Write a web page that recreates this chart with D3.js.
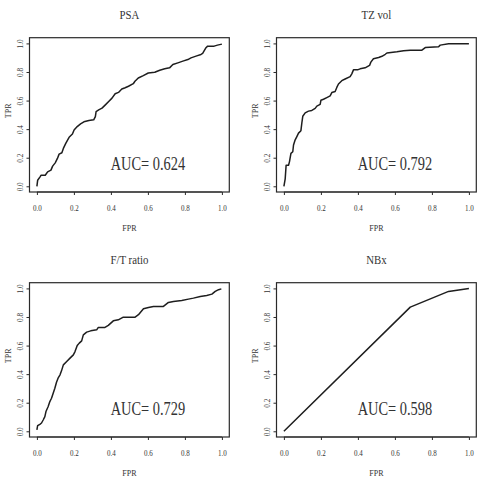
<!DOCTYPE html>
<html>
<head>
<meta charset="utf-8">
<script src="https://cdn.jsdelivr.net/npm/d3@7"></script>
<style>
  html, body { margin: 0; padding: 0; background: #fff; }
  svg { display: block; }
  text { font-family: "Liberation Serif", "Times New Roman", serif; fill: #333; }
</style>
</head>
<body>
<script>
// ---- data ----
const titles = ["PSA", "TZ vol", "F/T ratio", "NBx"];
const aucLabels = ["AUC= 0.624", "AUC= 0.792", "AUC= 0.729", "AUC= 0.598"];
const tickValues = [0.0, 0.2, 0.4, 0.6, 0.8, 1.0];

const psaFPR = [0, 0.004, 0.017, 0.022, 0.045, 0.058, 0.076, 0.085, 0.099, 0.111, 0.120, 0.135, 0.143, 0.156, 0.174, 0.192, 0.201, 0.218, 0.236, 0.254, 0.281, 0.307, 0.316, 0.320, 0.334, 0.352, 0.370, 0.388, 0.406, 0.423, 0.441, 0.459, 0.477, 0.495, 0.521, 0.530, 0.548, 0.575, 0.602, 0.637, 0.664, 0.691, 0.717, 0.735, 0.762, 0.789, 0.816, 0.833, 0.860, 0.887, 0.896, 0.914, 0.923, 0.958, 0.976, 1.0];
const psaTPR = [0, 0.042, 0.066, 0.077, 0.077, 0.101, 0.113, 0.141, 0.164, 0.195, 0.225, 0.235, 0.265, 0.300, 0.343, 0.366, 0.394, 0.418, 0.437, 0.451, 0.460, 0.465, 0.488, 0.523, 0.535, 0.547, 0.570, 0.594, 0.617, 0.648, 0.657, 0.681, 0.690, 0.700, 0.718, 0.735, 0.758, 0.775, 0.793, 0.798, 0.812, 0.822, 0.829, 0.852, 0.864, 0.876, 0.887, 0.899, 0.911, 0.923, 0.930, 0.970, 0.981, 0.981, 0.988, 0.995];

const tzFPR = [0, 0.007, 0.012, 0.025, 0.030, 0.038, 0.048, 0.052, 0.061, 0.070, 0.079, 0.092, 0.097, 0.102, 0.115, 0.133, 0.151, 0.169, 0.178, 0.196, 0.200, 0.214, 0.232, 0.250, 0.259, 0.277, 0.286, 0.295, 0.313, 0.331, 0.358, 0.367, 0.376, 0.398, 0.412, 0.439, 0.463, 0.470, 0.484, 0.512, 0.530, 0.548, 0.557, 0.611, 0.647, 0.683, 0.746, 0.764, 0.836, 0.845, 0.890, 1.0];
const tzTPR = [0, 0.052, 0.147, 0.147, 0.171, 0.230, 0.242, 0.289, 0.325, 0.348, 0.372, 0.389, 0.443, 0.490, 0.514, 0.526, 0.531, 0.545, 0.561, 0.573, 0.602, 0.609, 0.621, 0.633, 0.656, 0.664, 0.692, 0.716, 0.739, 0.751, 0.768, 0.787, 0.815, 0.815, 0.822, 0.829, 0.846, 0.869, 0.893, 0.901, 0.910, 0.924, 0.933, 0.941, 0.948, 0.953, 0.953, 0.971, 0.976, 0.988, 0.997, 0.997];

const ftFPR = [0, 0.004, 0.016, 0.025, 0.034, 0.043, 0.049, 0.061, 0.070, 0.079, 0.088, 0.097, 0.106, 0.116, 0.125, 0.133, 0.143, 0.161, 0.179, 0.197, 0.206, 0.218, 0.229, 0.242, 0.251, 0.269, 0.291, 0.323, 0.332, 0.368, 0.386, 0.413, 0.440, 0.467, 0.531, 0.549, 0.576, 0.603, 0.630, 0.684, 0.711, 0.738, 0.783, 0.819, 0.846, 0.883, 0.918, 0.946, 0.964, 0.982, 0.997];
const ftTPR = [0.01, 0.039, 0.049, 0.058, 0.079, 0.103, 0.138, 0.173, 0.208, 0.231, 0.266, 0.301, 0.343, 0.376, 0.395, 0.423, 0.465, 0.488, 0.512, 0.535, 0.558, 0.600, 0.617, 0.633, 0.675, 0.694, 0.703, 0.710, 0.727, 0.727, 0.741, 0.773, 0.780, 0.799, 0.799, 0.816, 0.858, 0.867, 0.874, 0.874, 0.902, 0.909, 0.916, 0.925, 0.932, 0.944, 0.951, 0.960, 0.979, 0.991, 0.997];

const nbxFPR = [0, 0.683, 0.890, 1.0];
const nbxTPR = [0, 0.869, 0.979, 1.0];

const seriesFPR = [psaFPR, tzFPR, ftFPR, nbxFPR];
const seriesTPR = [psaTPR, tzTPR, ftTPR, nbxTPR];

// ---- layout ----
const Wd = 479, Ht = 486;
const L = 29.5, T = 37.7, W = 199.8, H = 154.3;
const offsets = [[0, 0], [247, 0], [0, 245], [247, 245]];
const SX = 0.8;

const svg = d3.select("body").append("svg")
  .attr("width", Wd).attr("height", Ht);

function label(g, x, y, txt, size, anchor, sx, rot) {
  g.append("text")
    .attr("transform", `translate(${x},${y}) scale(${sx},1)` + (rot ? ` rotate(${rot})` : ""))
    .attr("text-anchor", anchor)
    .attr("font-size", size)
    .text(txt);
}

titles.forEach((title, i) => {
  const [ox, oy] = offsets[i];
  const g = svg.append("g").attr("transform", `translate(${ox},${oy})`);
  const x = d3.scaleLinear().domain([-0.04, 1.04]).range([L, L + W]);
  const y = d3.scaleLinear().domain([-0.04, 1.04]).range([T + H, T]);

  // box
  g.append("rect").attr("x", L).attr("y", T).attr("width", W).attr("height", H)
    .attr("fill", "none").attr("stroke", "#2a2a2a").attr("stroke-width", 1.2);

  // x axis
  const xa = g.append("g").attr("transform", `translate(0,${T + H})`)
    .call(d3.axisBottom(x).tickValues(tickValues).tickSize(3).tickSizeOuter(0).tickFormat(d3.format(".1f")));
  xa.select(".domain").attr("stroke", "#2a2a2a").attr("stroke-width", 1)
    .attr("d", `M${x(0)},0H${x(1)}`);
  xa.selectAll(".tick line").attr("stroke", "#2a2a2a");
  xa.selectAll(".tick text")
    .attr("y", 0).attr("dy", 0)
    .attr("transform", `translate(0,19) scale(0.78,1)`)
    .attr("font-size", 9).attr("font-family", "Liberation Serif").attr("fill", "#333");

  // y axis
  const ya = g.append("g").attr("transform", `translate(${L},0)`)
    .call(d3.axisLeft(y).tickValues(tickValues).tickSize(3).tickSizeOuter(0).tickFormat(d3.format(".1f")));
  ya.select(".domain").attr("stroke", "#2a2a2a").attr("stroke-width", 1)
    .attr("d", `M0,${y(0)}V${y(1)}`);
  ya.selectAll(".tick line").attr("stroke", "#2a2a2a");
  ya.selectAll(".tick text")
    .attr("x", 0).attr("dy", 0)
    .attr("transform", `translate(-7,0) rotate(-90)`)
    .attr("text-anchor", "middle")
    .attr("font-size", 7.2).attr("font-family", "Liberation Serif").attr("fill", "#333");

  // titles and axis labels
  label(g, L + W / 2, T - 18.7, title, 13.5, "middle", SX);
  label(g, L + W / 2, T + H + 39, "FPR", 8, "middle", 1);
  label(g, L - 18.5, T + H / 2 - 4, "TPR", 8, "middle", 1, -90);

  // ROC curve
  const pts = seriesFPR[i].map((f, k) => [f, seriesTPR[i][k]]);
  g.append("path").datum(pts)
    .attr("fill", "none").attr("stroke", "#1e1e1e").attr("stroke-width", 1.5)
    .attr("stroke-linejoin", "round")
    .attr("d", d3.line().x(d => x(d[0])).y(d => y(d[1])));

  // AUC text
  label(g, x(0.6), y(0.116), aucLabels[i], 18, "middle", SX);
});
</script>
</body>
</html>
